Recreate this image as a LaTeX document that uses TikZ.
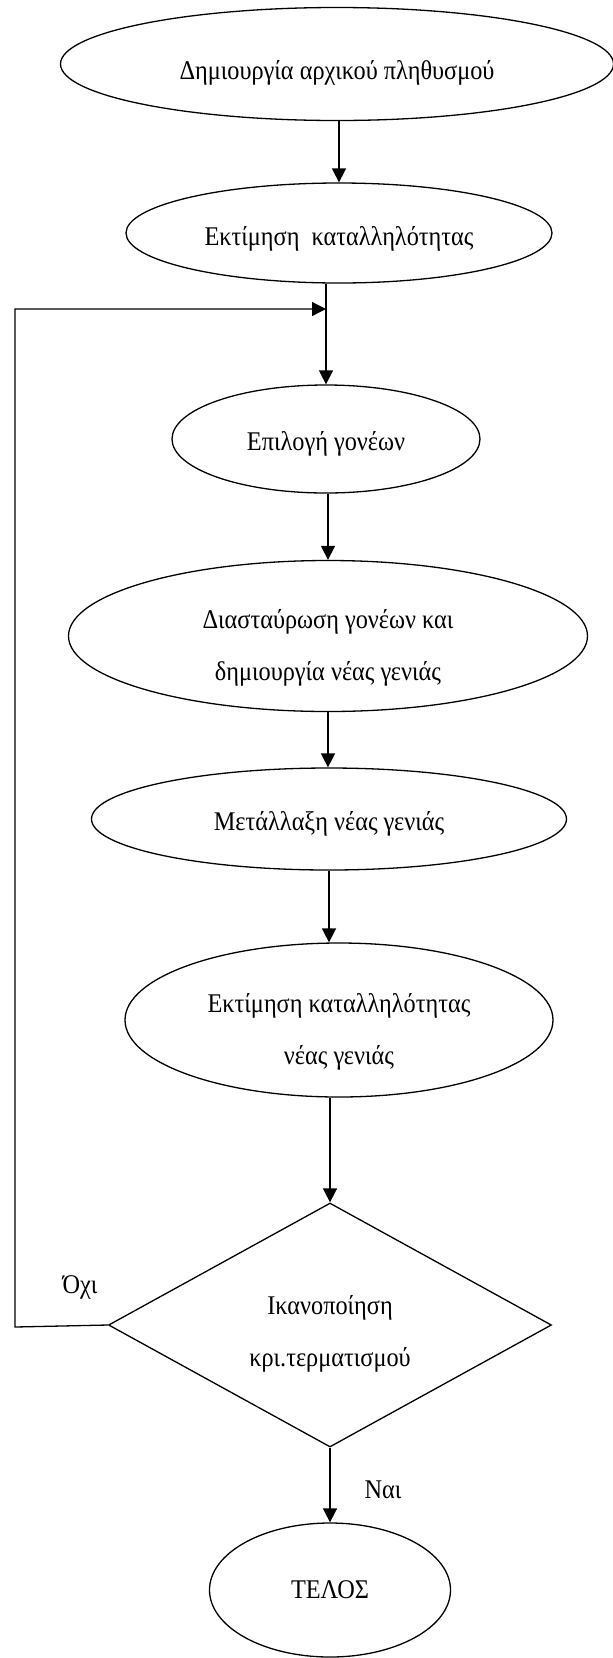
\documentclass[tikz,border=0pt]{standalone}
\usepackage{fontspec}
\setmainfont[FakeStretch=0.9]{Liberation Serif}
\usetikzlibrary{shapes.geometric}
\usetikzlibrary{arrows.meta}

\begin{document}
\begin{tikzpicture}[x=1pt, y=-1pt,
    etape/.style={ellipse, draw, line width=1.3pt, inner sep=0pt, align=center, font=\police, text height=28pt, text depth=6pt},
    deux/.style={text height=94pt, text depth=6pt},
    test/.style={diamond, draw, line width=1.3pt, inner sep=0pt, align=center, font=\police, text height=88pt, text depth=6pt},
    fleche/.style={line width=1.6pt, -{Triangle[length=14pt,width=14pt]}},
    note/.style={font=\police}]
        \def\police{\fontsize{27}{52}\selectfont} % police des etapes
        \def\ep{1.3pt}                            % epaisseur de la boucle

        \useasboundingbox (0,0) rectangle (613,1658);

        % Les etapes de l'algorithme
        \node[etape, text height=36pt, minimum width=553pt, minimum height=113pt] (crea) at (337,64) {Δημιουργία αρχικού πληθυσμού};
        \node[etape, text height=31pt, minimum width=426pt, minimum height=100pt] (eval) at (339,233) {Εκτίμηση\ \ καταλληλότητας};
        \node[etape, minimum width=308pt, minimum height=108pt] (sel) at (326,439) {Επιλογή γονέων};
        \node[etape, deux, minimum width=519pt, minimum height=151pt] (croise) at (328,636) {Διασταύρωση γονέων και\\δημιουργία νέας γενιάς};
        \node[etape, minimum width=475pt, minimum height=102pt] (mut) at (329,819) {Μετάλλαξη νέας γενιάς};
        \node[etape, deux, minimum width=428pt, minimum height=154pt] (evalnew) at (339,1020) {Εκτίμηση καταλληλότητας\\νέας γενιάς};
        \node[test, minimum width=443pt, minimum height=244pt, aspect=1.8] (arret) at (330,1325) {Ικανοποίηση\\κρι.τερματισμού};
        \node[etape, text height=22pt, minimum width=241pt, minimum height=134pt] (fin) at (330,1590) {ΤΕΛΟΣ};

        % Annotations
        \node[note] (non) at (80,1287) {Όχι};
        \node[note] (oui) at (383,1490) {Ναι};

        % Fleches
        \draw[fleche] (eval.north |- crea.south) -- (eval.north);
        \draw[fleche] (sel.north |- eval.south) -- (sel.north);
        \draw[fleche] (croise.north |- sel.south) -- (croise.north);
        \draw[fleche] (croise.south) -- (croise.south |- mut.north);
        \draw[fleche] (mut.south) -- (mut.south |- evalnew.north);
        \draw[fleche] (arret.north |- evalnew.south) -- (arret.north);
        \draw[fleche] (arret.south) -- (fin.north);

        % Boucle de retour
        \coordinate (coin) at (15,1327);
        \coordinate (jonc) at (sel.north |- 0,309);
        \draw[fleche, line width=\ep] (arret.west) -- (coin) |- (jonc);
\end{tikzpicture}
\end{document}
